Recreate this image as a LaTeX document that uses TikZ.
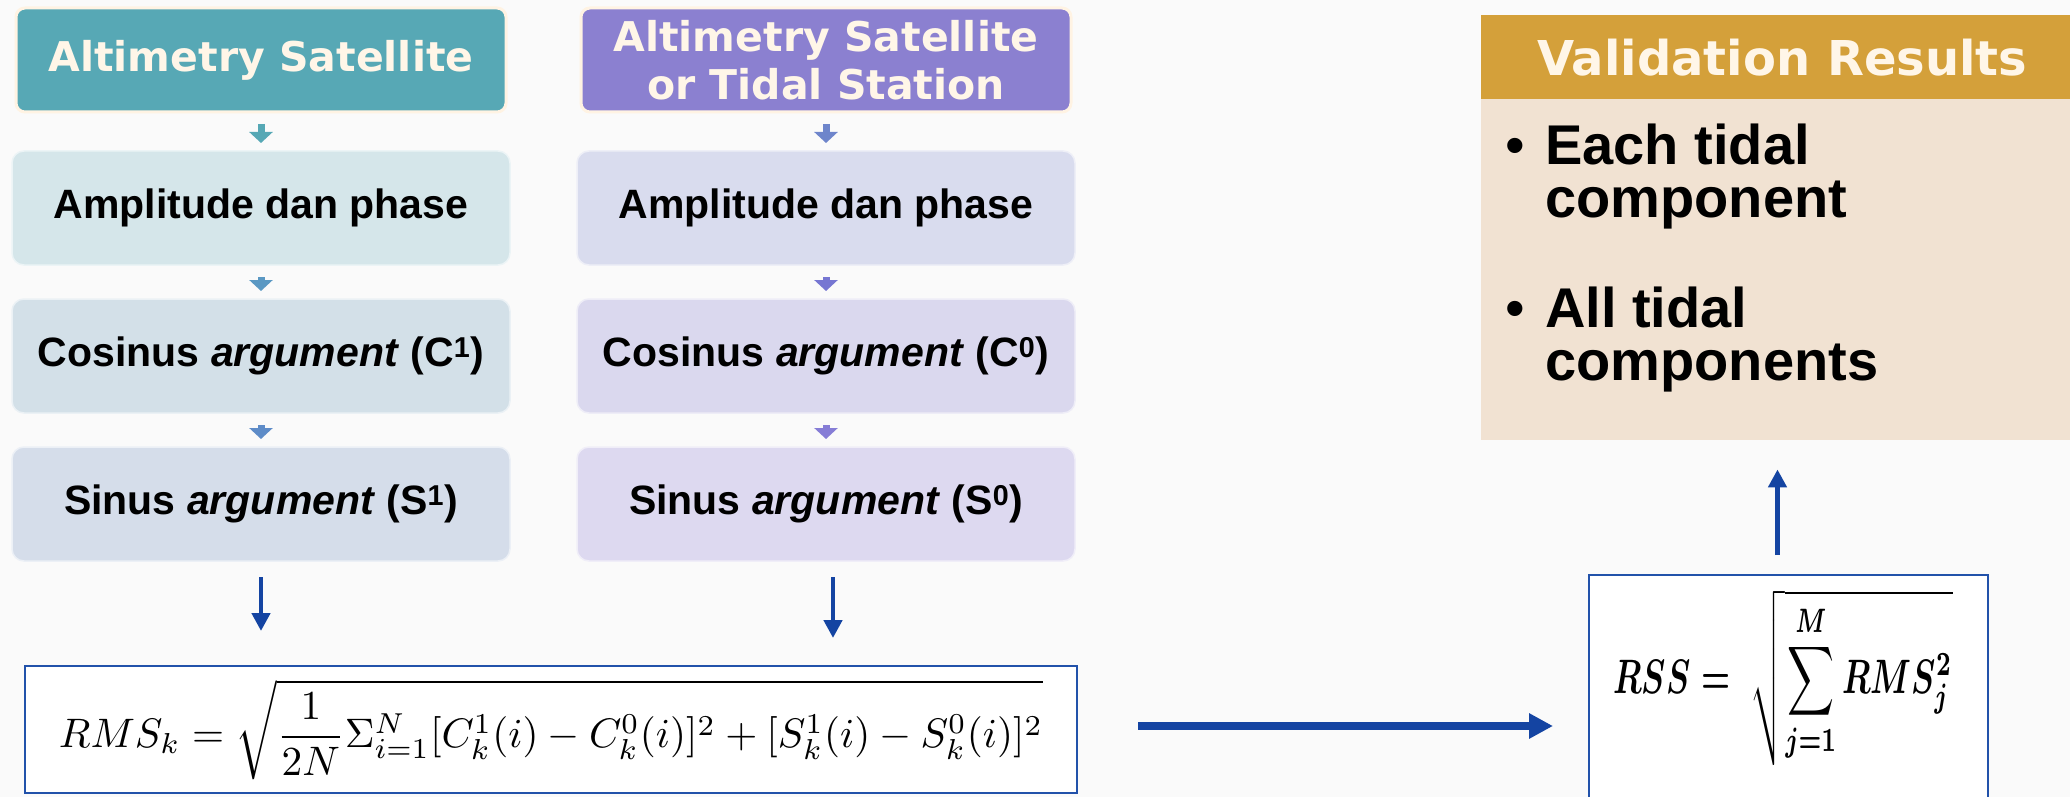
\documentclass[tikz,border=0pt]{standalone}
\usepackage{fontspec}
\usepackage{amsmath}
\usepackage{graphicx}
\usetikzlibrary{arrows.meta,calc}
\newfontfamily\dejavu{DejaVu Sans}
\newfontfamily\libsans{Liberation Sans}
\definecolor{bgcol}{RGB}{250,250,250}
\definecolor{hdrAcol}{RGB}{87,168,181}
\definecolor{hdrBcol}{RGB}{139,128,208}
\definecolor{creamline}{RGB}{255,243,227}
\definecolor{txtcream}{RGB}{255,246,232}
\definecolor{ampAcol}{RGB}{213,230,234}
\definecolor{cosAcol}{RGB}{211,224,232}
\definecolor{sinAcol}{RGB}{213,221,234}
\definecolor{ampBcol}{RGB}{217,220,238}
\definecolor{cosBcol}{RGB}{218,216,238}
\definecolor{sinBcol}{RGB}{221,217,240}
\definecolor{arA1}{RGB}{86,168,181}
\definecolor{arA2}{RGB}{90,152,195}
\definecolor{arA3}{RGB}{94,140,200}
\definecolor{arB1}{RGB}{110,133,203}
\definecolor{arB2}{RGB}{118,118,210}
\definecolor{arB3}{RGB}{134,125,214}
\definecolor{bigblue}{RGB}{20,68,162}
\definecolor{frameblue}{RGB}{34,82,170}
\definecolor{goldcol}{RGB}{212,160,58}
\definecolor{valbodycol}{RGB}{241,226,210}
\begin{document}
\begin{tikzpicture}[x=1pt,y=-1pt,
  hdr/.style={rectangle, rounded corners=9pt, draw=creamline, line width=3pt, fill=#1,
    text=txtcream, font=\dejavu\bfseries\fontsize{41}{48}\selectfont, align=center,
    minimum width=490pt, minimum height=104pt, inner sep=0pt, outer sep=0pt},
  stepbox/.style={rectangle, rounded corners=12pt, draw=white!55!#1, line width=1.5pt, fill=#1,
    font=\libsans\bfseries\fontsize{41}{48}\selectfont,
    minimum width=498pt, minimum height=114pt, inner sep=0pt, outer sep=0pt},
  smallarr/.style={draw=#1, line width=7pt, -{Triangle[width=23pt,length=11pt,fill=#1]},
    shorten <=12pt, shorten >=8pt},
  bigarr/.style={draw=bigblue, line width=4.5pt, -{Triangle[width=18pt,length=18pt]}},
  harr/.style={draw=bigblue, line width=8pt, -{Triangle[width=24pt,length=24pt]}},
  frame/.style={rectangle, draw=frameblue, line width=2.5pt, fill=white, inner sep=0pt, outer sep=0pt}
]
\useasboundingbox (0,0) rectangle (2070,797);
\clip (0,0) rectangle (2070,797);
\fill[bgcol] (0,0) rectangle (2070,797);

% left column
\node[hdr=hdrAcol] (hA) at (261,60) {Altimetry Satellite};
\node[stepbox=ampAcol] (ampA) at (261,208) {Amplitude dan phase};
\node[stepbox=cosAcol] (cosA) at (261,356) {Cosinus \textit{argument} (C\textsuperscript{1})};
\node[stepbox=sinAcol] (sinA) at (261,504) {Sinus \textit{argument} (S\textsuperscript{1})};

% right column
\node[hdr=hdrBcol] (hB) at (826,60) {Altimetry Satellite\\or Tidal Station};
\node[stepbox=ampBcol] (ampB) at (826,208) {Amplitude dan phase};
\node[stepbox=cosBcol] (cosB) at (826,356) {Cosinus \textit{argument} (C\textsuperscript{0})};
\node[stepbox=sinBcol] (sinB) at (826,504) {Sinus \textit{argument} (S\textsuperscript{0})};

\draw[smallarr=arA1] (hA) -- (ampA);
\draw[smallarr=arA2] (ampA) -- (cosA);
\draw[smallarr=arA3] (cosA) -- (sinA);
\draw[smallarr=arB1] (hB) -- (ampB);
\draw[smallarr=arB2] (ampB) -- (cosB);
\draw[smallarr=arB3] (cosB) -- (sinB);

% RMS box
\node[frame, minimum width=1052pt, minimum height=127pt] (rms) at (551,729.5)
  {\resizebox{984pt}{!}{$\displaystyle RMS_k=\sqrt{\frac{1}{2N}\Sigma_{i=1}^{N}[C_k^1(i)-C_k^0(i)]^2+[S_k^1(i)-S_k^0(i)]^2}$}};

\draw[bigarr, shorten <=16pt, shorten >=35pt] (sinA) -- (sinA |- rms.north);
\draw[bigarr, shorten <=16pt, shorten >=28pt] ([xshift=7pt]sinB.south) -- ([xshift=7pt]sinB.south |- rms.north);

% RSS box
\node[frame, minimum width=399pt, minimum height=265pt] (rss) at (1788.5,707.5) {};
\node[inner sep=0pt] (rssf) at (1783,678)
  {\resizebox*{339pt}{176pt}{\boldmath$\displaystyle RSS=\;\sqrt{\sum_{j=1}^{M}RMS_j^2}$}};

\draw[harr, shorten <=61pt, shorten >=36pt] ([yshift=3.5pt]rms.east) -- ([yshift=3.5pt]rms.east -| rss.west);

% Validation
\node[rectangle, fill=goldcol, anchor=north west, minimum width=602pt, minimum height=84pt,
  inner sep=0pt, text=txtcream, font=\dejavu\bfseries\fontsize{48}{56}\selectfont] (valhdr) at (1481,15) {Validation Results};
\node[rectangle, fill=valbodycol, anchor=north west, minimum width=602pt, minimum height=341pt,
  inner sep=0pt] (valbody) at (1481,99) {};
\node[anchor=north west, inner sep=0pt, align=left,
  font=\libsans\bfseries\fontsize{56}{53}\selectfont] (valtext) at (1505,124)
  {\makebox[40pt][l]{\mdseries\textbullet}Each tidal\\
   \hspace*{40pt}component\\[57pt]
   \makebox[40pt][l]{\mdseries\textbullet}All tidal\\
   \hspace*{40pt}components};

\draw[bigarr, shorten <=20pt, shorten >=29pt] ([xshift=-11pt]rss.north) -- ([xshift=-11pt]rss.north |- valbody.south);
\end{tikzpicture}
\end{document}
